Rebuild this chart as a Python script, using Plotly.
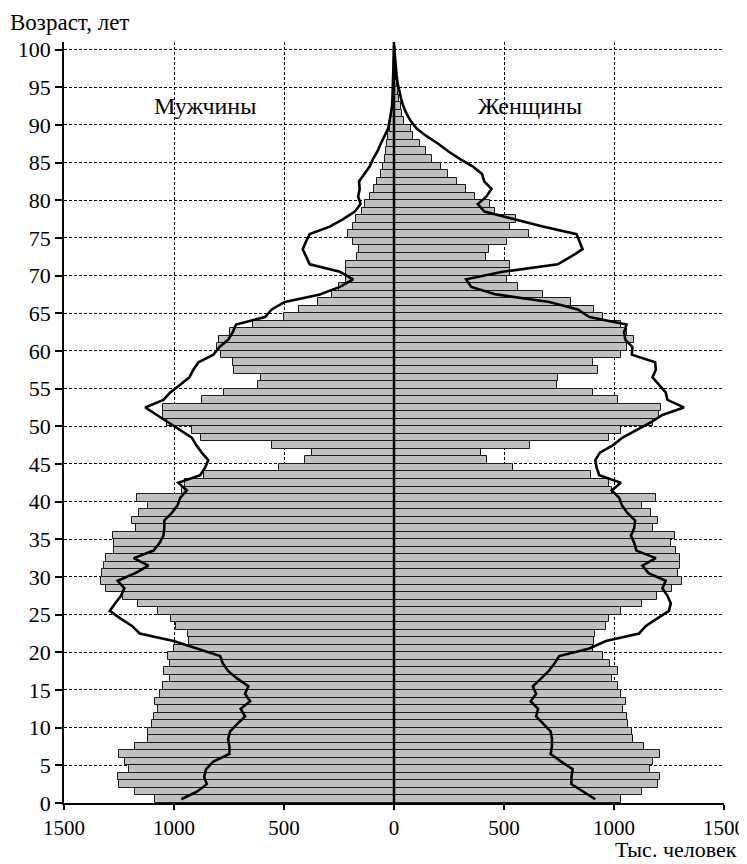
import plotly.graph_objects as go

ages = list(range(0, 101))

male = [1085, 1177, 1250, 1256, 1205, 1223, 1250, 1177, 1118, 1116,
        1099, 1093, 1075, 1087, 1063, 1050, 1017, 1044, 1017, 1029,
        1002, 930, 936, 990, 1014, 1072, 1165, 1232, 1311, 1332,
        1327, 1320, 1307, 1271, 1271, 1277, 1171, 1191, 1159, 1117,
        1168, 964, 949, 863, 521, 406, 373, 555, 878, 920,
        1032, 1048, 1050, 873, 772, 617, 605, 727, 733, 787,
        803, 794, 745, 642, 500, 431, 345, 283, 249, 219,
        216, 216, 168, 159, 186, 207, 186, 175, 146, 133,
        107, 92, 77, 59, 50, 42, 35, 30, 26, 20,
        16, 12, 9, 6, 5, 3, 2, 1, 1, 0.5, 0.3]

female = [1034, 1129, 1199, 1208, 1164, 1179, 1211, 1137, 1087, 1084,
          1064, 1061, 1043, 1054, 1034, 1019, 990, 1018, 981, 948,
          903, 907, 915, 963, 978, 1034, 1126, 1196, 1262, 1308,
          1293, 1302, 1299, 1281, 1258, 1278, 1175, 1202, 1167, 1129,
          1190, 990, 978, 894, 543, 423, 396, 616, 978, 1031,
          1178, 1205, 1212, 1020, 903, 739, 744, 925, 906, 1034,
          1057, 1092, 1057, 1031, 948, 907, 804, 679, 562, 513,
          525, 525, 416, 431, 513, 612, 528, 555, 457, 437,
          366, 328, 286, 245, 215, 174, 147, 120, 85, 76,
          45, 38, 30, 23, 18, 12, 8, 5, 3, 2, 1]

male_line = [967, 896, 851, 863, 854, 821, 748, 748, 754, 745,
             712, 677, 697, 654, 677, 662, 712, 753, 778, 790,
             896, 1002, 1156, 1191, 1244, 1292, 1267, 1241, 1226, 1256,
             1176, 1116, 1183, 1093, 1066, 1048, 1044, 1044, 1010, 984,
             972, 942, 980, 881, 859, 844, 874, 899, 919, 975,
             1025, 1078, 1131, 1048, 1017, 972, 930, 912, 889, 821,
             794, 753, 733, 718, 586, 556, 496, 337, 246, 186,
             246, 383, 400, 415, 400, 383, 292, 231, 178, 152,
             163, 156, 159, 133, 110, 95, 75, 60, 42, 27,
             20, 14, 9, 7, 6, 4, 3, 2, 1, 1, 0]

female_line = [915, 860, 806, 807, 812, 760, 712, 718, 718, 712,
               679, 646, 655, 621, 646, 631, 668, 703, 729, 751,
               888, 963, 1114, 1145, 1197, 1250, 1258, 1243, 1220, 1235,
               1157, 1129, 1190, 1102, 1092, 1077, 1092, 1096, 1061, 1036,
               1024, 990, 1031, 933, 921, 915, 936, 996, 1039, 1100,
               1167, 1220, 1318, 1243, 1235, 1205, 1175, 1190, 1187, 1081,
               1084, 1051, 1046, 1057, 888, 835, 706, 464, 351, 328,
               494, 744, 804, 857, 845, 830, 676, 540, 411, 381,
               420, 443, 410, 400, 357, 299, 246, 201, 148, 103,
               76, 57, 42, 32, 23, 17, 12, 8, 5, 3, 1]

x_ticks = [-1500, -1000, -500, 0, 500, 1000, 1500]
x_tick_text = ["1500", "1000", "500", "0", "500", "1000", "1500"]
y_ticks = list(range(0, 101, 5))

FONT = "Liberation Serif"
mid = [a + 0.5 for a in ages]

fig = go.Figure()
bar_style = dict(orientation="h", width=1.0,
                 marker=dict(color="#c0c0c0", line=dict(color="#1a1a1a", width=1)),
                 hoverinfo="skip", showlegend=False)
fig.add_trace(go.Bar(x=[-v for v in male], y=mid, base=0, **bar_style))
fig.add_trace(go.Bar(x=female, y=mid, base=0, **bar_style))
fig.add_trace(go.Scatter(x=[-v for v in male_line], y=mid, mode="lines",
                         line=dict(color="black", width=2.6), showlegend=False))
fig.add_trace(go.Scatter(x=female_line, y=mid, mode="lines",
                         line=dict(color="black", width=2.6), showlegend=False))

fig.add_shape(type="line", xref="x", yref="y", x0=0, x1=0, y0=0, y1=101,
              line=dict(color="black", width=2.5), layer="above")

# the page body adds an 8px offset, so the figure is 8px smaller than the window
fig.update_layout(
    template="none",
    width=739, height=856,
    margin=dict(l=56, r=23, t=34, b=61, autoexpand=False),
    paper_bgcolor="white", plot_bgcolor="white",
    barmode="overlay", bargap=0,
    font=dict(family=FONT, size=22, color="black"),
    xaxis=dict(range=[-1500, 1500], tickvals=x_ticks, ticktext=x_tick_text,
               automargin=False,
               ticks="outside", ticklen=5, tickcolor="black", tickwidth=1.5,
               showline=True, linecolor="black", linewidth=1.5,
               showgrid=True, gridcolor="black", gridwidth=1, griddash="3px,2px",
               zeroline=False, tickfont=dict(family=FONT, size=21)),
    yaxis=dict(range=[0, 101], tickvals=y_ticks,
               automargin=False,
               ticks="outside", ticklen=7, tickcolor="black", tickwidth=1.5,
               showline=True, linecolor="black", linewidth=1.5,
               showgrid=True, gridcolor="black", gridwidth=1, griddash="3px,2px",
               zeroline=False, tickfont=dict(family=FONT, size=22)),
    annotations=[
        dict(text="Возраст, лет", xref="paper", yref="paper", x=-0.0848, y=1.026,
             xanchor="left", yanchor="middle", showarrow=False,
             font=dict(family=FONT, size=23)),
        dict(text="Тыс. человек", xref="paper", yref="paper", x=1.023, y=-0.0802,
             xanchor="right", yanchor="bottom", showarrow=False,
             font=dict(family=FONT, size=22)),
        dict(text="Мужчины", xref="x", yref="y", x=-858, y=92.5,
             showarrow=False, font=dict(family=FONT, size=24)),
        dict(text="Женщины", xref="x", yref="y", x=620, y=92.5,
             showarrow=False, font=dict(family=FONT, size=24)),
    ],
)

fig.write_html("out.html")
